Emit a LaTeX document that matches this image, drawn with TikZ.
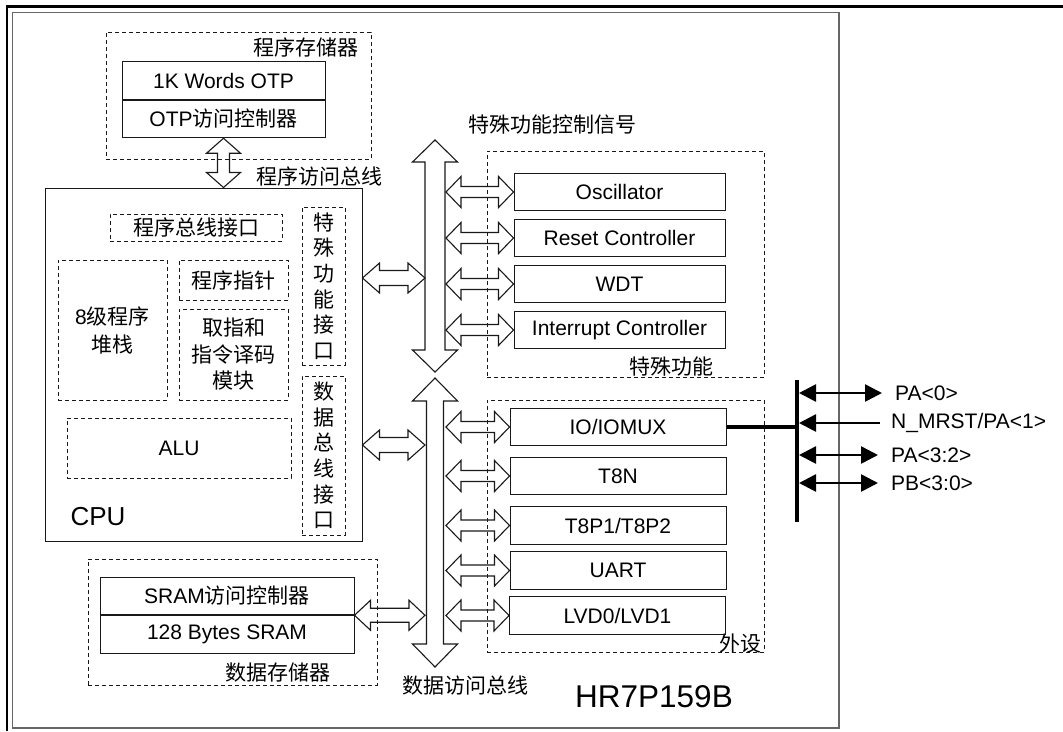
\documentclass[tikz,border=0pt]{standalone}
\usepackage{fontspec}
\setmainfont{Liberation Sans}
\newfontfamily\zh{Noto Sans CJK SC}
\usepackage{tikz}
\usetikzlibrary{arrows.meta,positioning,calc,backgrounds}
\newcommand\fs{\fontsize{21}{26}\selectfont}
\newcommand\vfs{\fontsize{21}{25.6}\selectfont}
% hollow double arrows: #1 start, #2 end, #3 head length, #4 head half width, #5 shaft half width
\newcommand{\hdbl}[5]{%
  \draw[hollow] (#1) -- ++(#3,-#4) -- ++(0,#4-#5) -- ($(#2)+(-#3,-#5)$) -- ++(0,-#4+#5)
    -- (#2) -- ++(-#3,#4) -- ++(0,-#4+#5) -- ($(#1)+(#3,#5)$) -- ++(0,#4-#5) -- cycle;}
\newcommand{\vdbl}[5]{%
  \draw[hollow] (#1) -- ++(#4,#3) -- ++(-#4+#5,0) -- ($(#2)+(#5,-#3)$) -- ++(#4-#5,0)
    -- (#2) -- ++(-#4,-#3) -- ++(#4-#5,0) -- ($(#1)+(-#5,#3)$) -- ++(-#4+#5,0) -- cycle;}

\begin{document}
\begin{tikzpicture}[x=1pt,y=-1pt,
  blk/.style={draw=black!90,line width=1pt,minimum height=37.5,inner sep=0,font=\fs},
  dbox/.style={draw=black!90,line width=1pt,dash pattern=on 4pt off 3pt,inner sep=0},
  lbl/.style={inner sep=0,font=\fs\zh},
  hollow/.style={draw=black!90,line width=1.1pt,fill=white,line join=miter},
  port/.style={line width=2.6pt,{Triangle[length=17pt,width=17pt]}-{Triangle[length=17pt,width=17pt]}},
]
\useasboundingbox (0,0) rectangle (1063,731);

% frames
\draw[line width=2.5] (7,731) -- (7,6.5) -- (1063,6.5);
\node[draw=black!60,line width=1.6,minimum width=826.5,minimum height=715.5,inner sep=0] (chip) at (425.75,370.25) {};
\node[inner sep=0,font=\fontsize{31.5}{36}\selectfont] (chipname) at (654,697) {HR7P159B};

% program memory
\node[dbox,minimum width=265,minimum height=127] (pmem) at (238.5,95.5) {};
\node[lbl] (pmemlbl) at (305.5,47) {程序存储器};
\node[blk,minimum width=203] (otp) at (223.5,80.5) {1K Words OTP};
\node[blk,minimum width=203,below=0pt of otp] (otpctl) {OTP{\zh 访问控制器}};
\node[lbl] (pbuslbl) at (319,176) {程序访问总线};

% CPU
\node[draw=black!90,line width=1pt,minimum width=317,minimum height=353] (cpu) at (203.5,364.5) {};
\node[inner sep=0,font=\fontsize{26}{30}\selectfont] (cpulbl) at (98,517) {CPU};
\node[dbox,minimum width=172,minimum height=27,font=\fs\zh] (pbi) at (196,227.5) {程序总线接口};
\node[dbox,minimum width=109,minimum height=140,align=center,font=\fontsize{21}{28}\selectfont] (stack) at (112.5,330) {8{\zh 级程序}\\{\zh 堆栈}};
\node[dbox,minimum width=109,minimum height=40,font=\fs\zh] (pc) at (233.5,280) {程序指针};
\node[dbox,minimum width=109,minimum height=91,align=center,font=\fontsize{21}{26.5}\selectfont\zh] (fetch) at (233.5,354.5) {取指和\\指令译码\\模块};
\node[dbox,minimum width=224,minimum height=60,font=\fs] (alu) at (179,448) {ALU};
\node[dbox,minimum width=43,minimum height=158,align=center,font=\vfs\zh] (sfi) at (323.5,286) {特\\殊\\功\\能\\接\\口};
\node[dbox,minimum width=43,minimum height=159,align=center,font=\vfs\zh] (dbi) at (323.5,455.5) {数\\据\\总\\线\\接\\口};

% buses
\coordinate (sfbusT) at (435,140);
\coordinate (sfbusB) at (435,372);
\coordinate (dbusT) at (435,378);
\coordinate (dbusB) at (435,667);
\coordinate (bl) at (425,0);
\coordinate (br) at (446,0);
\coordinate (sfrow) at (0,278);
\coordinate (dbrow) at (0,445);
\node[lbl] (sfbuslbl) at (552,125) {特殊功能控制信号};
\node[lbl] (dbuslbl) at (465,686) {数据访问总线};

% special functions
\node[dbox,minimum width=277,minimum height=226] (sfunc) at (625.5,264) {};
\node[lbl] (sfunclbl) at (671,367) {特殊功能};
\node[blk,minimum width=211] (osc) at (619.5,192) {Oscillator};
\node[blk,minimum width=211,below=7.5pt of osc] (rst) {Reset Controller};
\node[blk,minimum width=211,below=7.5pt of rst] (wdt) {WDT};
\node[blk,minimum width=211,below=7.5pt of wdt] (irq) {Interrupt Controller};

% peripherals
\node[dbox,minimum width=277,minimum height=252] (periph) at (625.5,526) {};
\node[lbl] (periphlbl) at (740,644) {外设};
\node[blk,minimum width=216] (io) at (618,427) {IO/IOMUX};
\node[blk,minimum width=216] (t8n) at (618,476) {T8N};
\node[blk,minimum width=216] (t8p) at (618,525.5) {T8P1/T8P2};
\node[blk,minimum width=216] (uart) at (618,570.5) {UART};
\node[blk,minimum width=216] (lvd) at (617.5,615.5) {LVD0/LVD1};

% data memory
\node[dbox,minimum width=289,minimum height=126] (dmem) at (232.5,622) {};
\node[blk,minimum width=254] (sramctl) at (227,596) {SRAM{\zh 访问控制器}};
\node[blk,minimum width=254,below=0pt of sramctl] (sram) {128 Bytes SRAM};
\node[lbl] (dmemlbl) at (277.5,673) {数据存储器};

% hollow arrows
\begin{scope}[on background layer]
\vdbl{otpctl.south}{otpctl.south |- cpu.north}{15}{17}{6}
\vdbl{sfbusT}{sfbusB}{22}{22.5}{10}
\vdbl{dbusT}{dbusB}{23}{22.5}{8.5}
\hdbl{cpu.east |- sfrow}{bl |- sfrow}{17}{15}{7.5}
\hdbl{cpu.east |- dbrow}{bl |- dbrow}{17}{15}{7.5}
\hdbl{sram.north east}{sram.north east -| bl}{16}{15}{7}
\foreach \n in {osc,rst,wdt,irq,io,t8n,t8p,uart,lvd}
  \hdbl{\n.west -| br}{\n.west}{15}{15.5}{5.5};
\end{scope}

% ports
\coordinate (pbT) at (797,380);
\coordinate (pbB) at (797,522);
\node[inner sep=0,font=\fs,anchor=west] (pa0) at (895,393) {PA<0>};
\node[inner sep=0,font=\fs,anchor=west] (mrst) at (891,423) {N\_MRST/PA<1>};
\node[inner sep=0,font=\fs,anchor=west] (pa32) at (891,455) {PA<3:2>};
\node[inner sep=0,font=\fs,anchor=west] (pb30) at (891,483) {PB<3:0>};
\draw[line width=4] (pbT) -- (pbB);
\draw[line width=4] (io.east) -- (io.east -| pbT);
\draw[port] ([xshift=2]pa0.west -| pbT) -- ([xshift=-13]pa0.west);
\draw[line width=2.6,-{Triangle[length=17pt,width=17pt]}] ([xshift=-11]mrst.west) -- ([xshift=2]mrst.west -| pbT);
\draw[port] ([xshift=2]pa32.west -| pbT) -- ([xshift=-13]pa32.west);
\draw[port] ([xshift=2]pb30.west -| pbT) -- ([xshift=-13]pb30.west);
\end{tikzpicture}
\end{document}
